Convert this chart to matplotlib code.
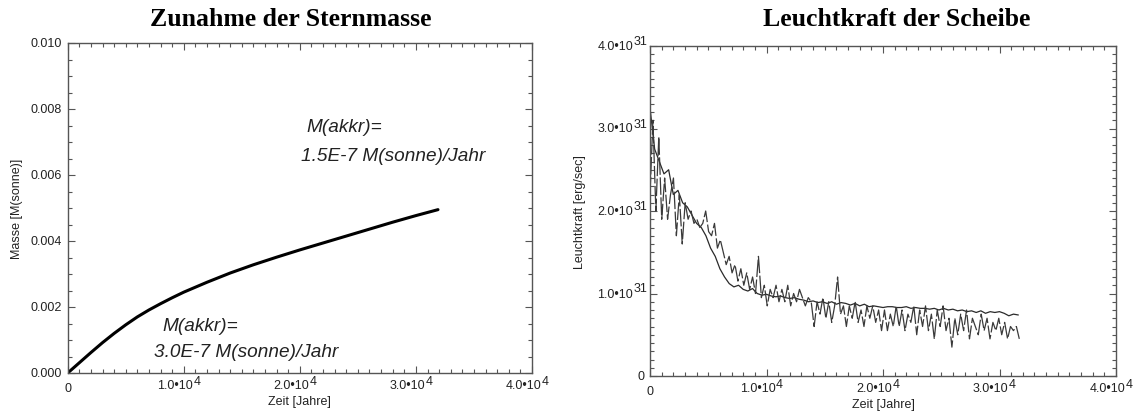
import numpy as np
import matplotlib.pyplot as plt
from matplotlib.ticker import MultipleLocator
from matplotlib.transforms import offset_copy

plt.rcParams['font.family'] = ['Liberation Sans', 'DejaVu Sans']

# Sternmasse [M(sonne)] ueber der Zeit [Jahre]
zeit_masse = [0, 1000, 2000, 3000, 4000, 5000, 6000, 7000, 8000, 9000, 10000,
              12000, 14000, 16000, 18000, 20000, 22000, 24000, 26000, 28000,
              30000, 31900]
masse = [0.0, 0.00031, 0.00062, 0.00092, 0.0012, 0.00146, 0.0017, 0.00191,
         0.0021, 0.00228, 0.00245, 0.00275, 0.00303, 0.00328, 0.00351,
         0.00373, 0.00394, 0.00415, 0.00436, 0.00457, 0.00477, 0.00495]

# Leuchtkraft der Scheibe [1e31 erg/sec], glatte Kurve
lum_glatt = [3.25, 2.75, 2.6, 2.45, 2.5, 2.2, 2.25, 2.1, 2.05, 1.95,
             1.85, 1.8, 1.7, 1.55, 1.45, 1.3, 1.2, 1.12, 1.08, 1.1,
             1.05, 1.03, 1.06, 1.0, 0.98, 0.99, 0.97, 0.96, 0.97, 0.95,
             0.94, 0.95, 0.93, 0.92, 0.9, 0.91, 0.89, 0.9, 0.88, 0.9,
             0.87, 0.89, 0.88, 0.86, 0.88, 0.85, 0.87, 0.84, 0.85, 0.84,
             0.83, 0.84, 0.84, 0.83, 0.83, 0.84, 0.82, 0.83, 0.82, 0.82,
             0.81, 0.82, 0.80, 0.82, 0.80, 0.81, 0.79, 0.80, 0.78, 0.79,
             0.77, 0.79, 0.76, 0.78, 0.77, 0.78, 0.76, 0.73, 0.75, 0.74]

# Leuchtkraft der Scheibe [1e31 erg/sec], verrauschte Kurve
lum_rausch = [2.2, 3.1, 2.0, 2.9, 1.9, 2.4, 1.9, 2.2,
              2.4, 1.7, 2.2, 1.6, 2.1, 1.9, 2.0, 1.85,
              1.9, 1.8, 1.85, 2.0, 1.75, 1.7, 1.85, 1.55,
              1.65, 1.5, 1.35, 1.45, 1.25, 1.35, 1.15, 1.3,
              1.1, 1.25, 1.05, 1.2, 1.0, 1.45, 0.95, 1.1,
              0.85, 1.05, 0.95, 1.1, 0.9, 1.05, 0.9, 1.1,
              0.85, 1.0, 0.9, 1.05, 0.95, 0.85, 0.95, 0.9,
              0.6, 0.9, 0.75, 0.95, 0.7, 0.9, 0.65, 0.85,
              1.2, 0.75, 0.85, 0.6, 0.85, 0.7, 0.9, 0.65,
              0.8, 0.6, 0.85, 0.7, 0.85, 0.65, 0.8, 0.55,
              0.8, 0.55, 0.75, 0.6, 0.85, 0.6, 0.8, 0.55,
              0.75, 0.65, 0.85, 0.5, 0.8, 0.6, 0.85, 0.55,
              0.75, 0.45, 0.8, 0.6, 0.85, 0.55, 0.7, 0.35,
              0.7, 0.5, 0.75, 0.55, 0.8, 0.45, 0.7, 0.6,
              0.5, 0.75, 0.55, 0.7, 0.45, 0.65, 0.55, 0.7,
              0.5, 0.65, 0.45, 0.6, 0.55, 0.6, 0.45]

zeit_glatt = np.linspace(0, 31600, len(lum_glatt))
zeit_rausch = np.linspace(0, 31700, len(lum_rausch))

# Achsenbeschriftung: (Wert, Mantisse, Exponent)
x_ticks = [(0, '0', None), (1e4, '1.0•10', '4'), (2e4, '2.0•10', '4'),
           (3e4, '3.0•10', '4'), (4e4, '4.0•10', '4')]
y_ticks_l = [(0, '0.000', None), (0.002, '0.002', None), (0.004, '0.004', None),
             (0.006, '0.006', None), (0.008, '0.008', None), (0.010, '0.010', None)]
y_ticks_r = [(0, '0', None), (1e31, '1.0•10', '31'), (2e31, '2.0•10', '31'),
             (3e31, '3.0•10', '31'), (4e31, '4.0•10', '31')]

W, H = 1141, 414
fig = plt.figure(figsize=(W / 100, H / 100), dpi=100)
ax1 = fig.add_axes([67.7 / W, (H - 374) / H, 464.3 / W, 330 / H])
ax2 = fig.add_axes([650 / W, (H - 377) / H, 466 / W, 330 / H])

FS = 9
COL = '#222222'


def put(ax, trans, xy, dx, dy, s, **kw):
    t = offset_copy(trans, fig=fig, x=dx, y=dy, units='dots')
    ax.text(xy[0], xy[1], s, transform=t, fontsize=FS, color=COL,
            clip_on=False, **kw)


def idl_axes(ax, ymax, yminor, xticks, yticks):
    for s in ax.spines.values():
        s.set_color('#555555')
        s.set_linewidth(1.0)
    ax.set_xlim(0, 4e4)
    ax.set_ylim(0, ymax)
    ax.set_xticks([t[0] for t in xticks])
    ax.set_yticks([t[0] for t in yticks])
    ax.set_xticklabels([])
    ax.set_yticklabels([])
    ax.xaxis.set_minor_locator(MultipleLocator(1000))
    ax.yaxis.set_minor_locator(MultipleLocator(yminor))
    ax.tick_params(which='both', direction='in', top=True, right=True,
                   color='#555555', width=0.8)
    ax.tick_params(which='major', length=5)
    ax.tick_params(which='minor', length=2.8)

    tx = ax.get_xaxis_transform()
    for val, base, exp in xticks:
        if exp is None:
            put(ax, tx, (val, 0), 0, -9, base, ha='center', va='top')
        else:
            put(ax, tx, (val, 0), 9, -6.5, base, ha='right', va='top')
            put(ax, tx, (val, 0), 9.5, -2, exp, ha='left', va='top')

    ty = ax.get_yaxis_transform()
    for val, base, exp in yticks:
        if exp is None:
            put(ax, ty, (0, val), -5.5, 0, base, ha='right', va='center')
        else:
            put(ax, ty, (0, val), -17, 0, base, ha='right', va='center')
            put(ax, ty, (0, val), -16.5, 5, exp, ha='left', va='center')

    ax.text(0.5, -0.085, 'Zeit [Jahre]', transform=ax.transAxes, fontsize=FS,
            color=COL, ha='center', va='center')


# linkes Bild: Sternmasse
idl_axes(ax1, 0.010, 0.0005, x_ticks, y_ticks_l)
ax1.plot(zeit_masse, masse, color='black', lw=2.2, solid_capstyle='round',
         solid_joinstyle='round')
ax1.text(-0.109, 0.5, 'Masse [M(sonne)]', transform=ax1.transAxes, fontsize=FS,
         color=COL, rotation=90, ha='center', va='center')
txt = dict(fontsize=13.7, style='italic', color='#222222', va='center')
ax1.text(20530, 0.00748, 'M(akkr)=', **txt)
ax1.text(20100, 0.00658, '1.5E-7 M(sonne)/Jahr', **txt)
ax1.text(8120, 0.00145, 'M(akkr)=', **txt)
ax1.text(7430, 0.00064, '3.0E-7 M(sonne)/Jahr', **txt)

# rechtes Bild: Leuchtkraft
idl_axes(ax2, 4e31, 1e30, x_ticks, y_ticks_r)
ax2.plot(zeit_glatt, np.array(lum_glatt) * 1e31, color='#2a2a2a', lw=0.9)
ax2.plot(zeit_rausch, np.array(lum_rausch) * 1e31, color='#3a3a3a', lw=0.9,
         linestyle=(0, (14, 2)))
ax2.text(-0.15, 0.5, 'Leuchtkraft [erg/sec]', transform=ax2.transAxes,
         fontsize=FS, color=COL, rotation=90, ha='center', va='center')

# Titel
title_kw = dict(family='Liberation Serif', fontweight='bold', fontsize=18.5,
                ha='center', va='center', color='black')
fig.text(291 / W, 1 - 19 / H, 'Zunahme der Sternmasse', **title_kw)
fig.text(897 / W, 1 - 19 / H, 'Leuchtkraft der Scheibe', **title_kw)

fig.savefig('out.png', dpi=100)
